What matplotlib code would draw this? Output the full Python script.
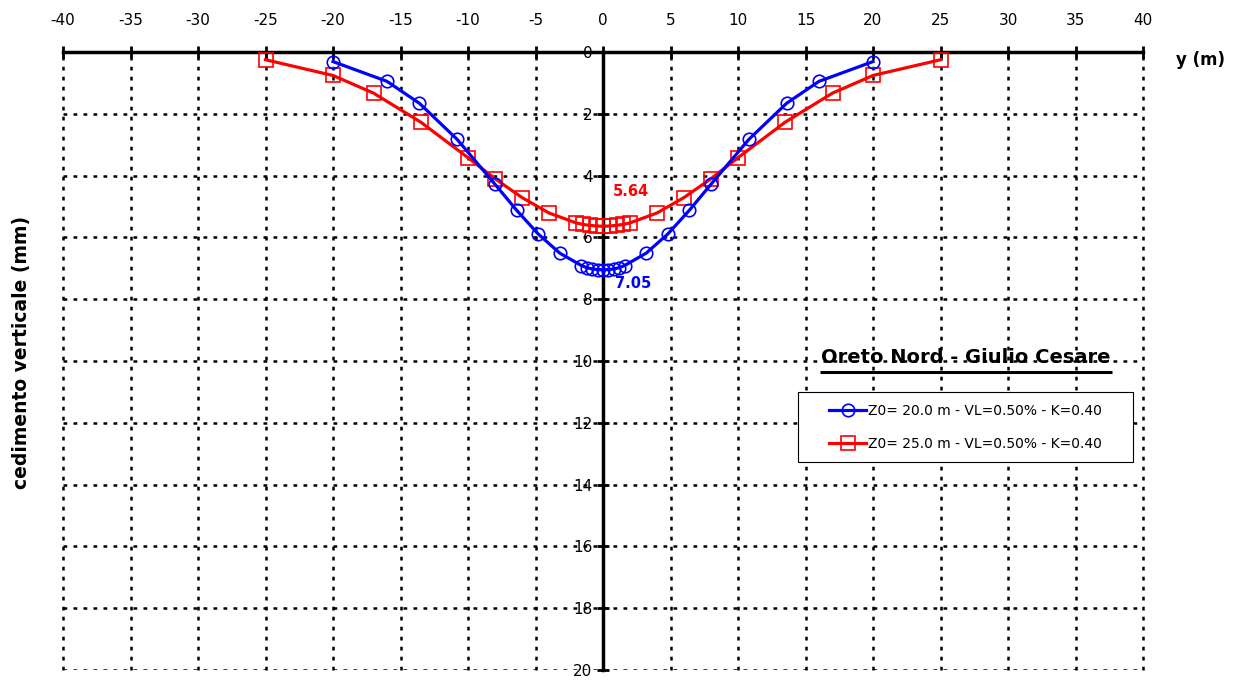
import numpy as np
import matplotlib.pyplot as plt
from matplotlib.patches import Rectangle

# distanza dall'asse (m) e cedimento verticale (mm)
y_z20 = [-20, -16, -13.6, -10.8, -8, -6.4, -4.8, -3.2, -1.6, -1.2, -0.8, -0.4, 0,
         0.4, 0.8, 1.2, 1.6, 3.2, 4.8, 6.4, 8, 10.8, 13.6, 16, 20]
s_z20 = [0.31, 0.95, 1.66, 2.83, 4.28, 5.12, 5.89, 6.51, 6.91, 6.98, 7.02, 7.04, 7.05,
         7.04, 7.02, 6.98, 6.91, 6.51, 5.89, 5.12, 4.28, 2.83, 1.66, 0.95, 0.31]

y_z25 = [-25, -20, -17, -13.5, -10, -8, -6, -4, -2, -1.5, -1, -0.5, 0,
         0.5, 1, 1.5, 2, 4, 6, 8, 10, 13.5, 17, 20, 25]
s_z25 = [0.25, 0.76, 1.33, 2.27, 3.42, 4.10, 4.71, 5.21, 5.53, 5.58, 5.61, 5.63, 5.64,
         5.63, 5.61, 5.58, 5.53, 5.21, 4.71, 4.10, 3.42, 2.27, 1.33, 0.76, 0.25]

lab_z20 = 'Z0= 20.0 m - VL=0.50% - K=0.40'
lab_z25 = 'Z0= 25.0 m - VL=0.50% - K=0.40'
smax_z20 = 7.05
smax_z25 = 5.64

xticks = np.arange(-40, 41, 5)
yticks = np.arange(0, 21, 2)

plt.rcParams['font.family'] = ['DejaVu Sans']
plt.rcParams['axes.unicode_minus'] = False

fig = plt.figure(figsize=(12.37, 6.8), dpi=100)
ax = fig.add_axes([63/1237, 10/680, 1080/1237, 618/680])

ax.plot(y_z20, s_z20, color='blue', lw=2.3, marker='o', ms=9, mfc='none',
        mec='blue', mew=1.2, label=lab_z20, zorder=4)
ax.plot(y_z25, s_z25, color='red', lw=2.3, marker='s', ms=9.5, mfc='none',
        mec='red', mew=1.2, label=lab_z25, zorder=3)

ax.set_xlim(-40, 40)
ax.set_ylim(20, 0)
ax.set_xticks(xticks)
ax.set_yticks(yticks)

# griglia a trattini (fa anche da cornice)
ax.grid(True, color='black', lw=1.8, linestyle=(0, (1.5, 2.5)))
ax.set_axisbelow(True)
for gl in ax.get_xgridlines() + ax.get_ygridlines():
    gl.set_clip_on(False)

for s in ['right', 'bottom']:
    ax.spines[s].set_visible(False)
ax.spines['top'].set_linewidth(2.5)
ax.spines['left'].set_position(('data', 0))
ax.spines['left'].set_linewidth(2.5)

ax.xaxis.tick_top()
ax.tick_params(axis='x', direction='inout', length=9, width=2, labelsize=11, pad=13)
ax.tick_params(axis='y', direction='inout', length=9, width=2, labelsize=11, pad=3)

ax.text(0.7, 4.53, '%.2f' % smax_z25, color='red', fontsize=10.5,
        fontweight='bold', va='center')
ax.text(0.9, 7.5, '%.2f' % smax_z20, color='blue', fontsize=10.5,
        fontweight='bold', va='center')

# titolo sottolineato
ax.text(0.836, 0.505, 'Oreto Nord - Giulio Cesare', transform=ax.transAxes,
        ha='center', va='center', fontsize=14, fontweight='bold', zorder=5)
ax.plot([0.701, 0.971], [0.482, 0.482], transform=ax.transAxes,
        color='black', lw=2.2, solid_capstyle='butt', zorder=5)

# riquadro legenda
ax.add_patch(Rectangle((0.681, 0.3366), 0.31, 0.1132, transform=ax.transAxes,
                       facecolor='white', edgecolor='black', lw=0.8, zorder=5))
leg = ax.legend(loc='center', bbox_to_anchor=(0.836, 0.393), fontsize=10,
                frameon=False, handlelength=2.6, handletextpad=0.2,
                labelspacing=1.35, borderaxespad=0, borderpad=0)
leg.set_zorder(6)

fig.text(1200/1237, 1 - 60/680, 'y (m)', ha='center', va='center',
         fontsize=12, fontweight='bold')
fig.text(22/1237, 1 - 352/680, 'cedimento verticale (mm)', rotation=90,
         ha='center', va='center', fontsize=13.5, fontweight='bold')

fig.savefig('out.png', dpi=100)
